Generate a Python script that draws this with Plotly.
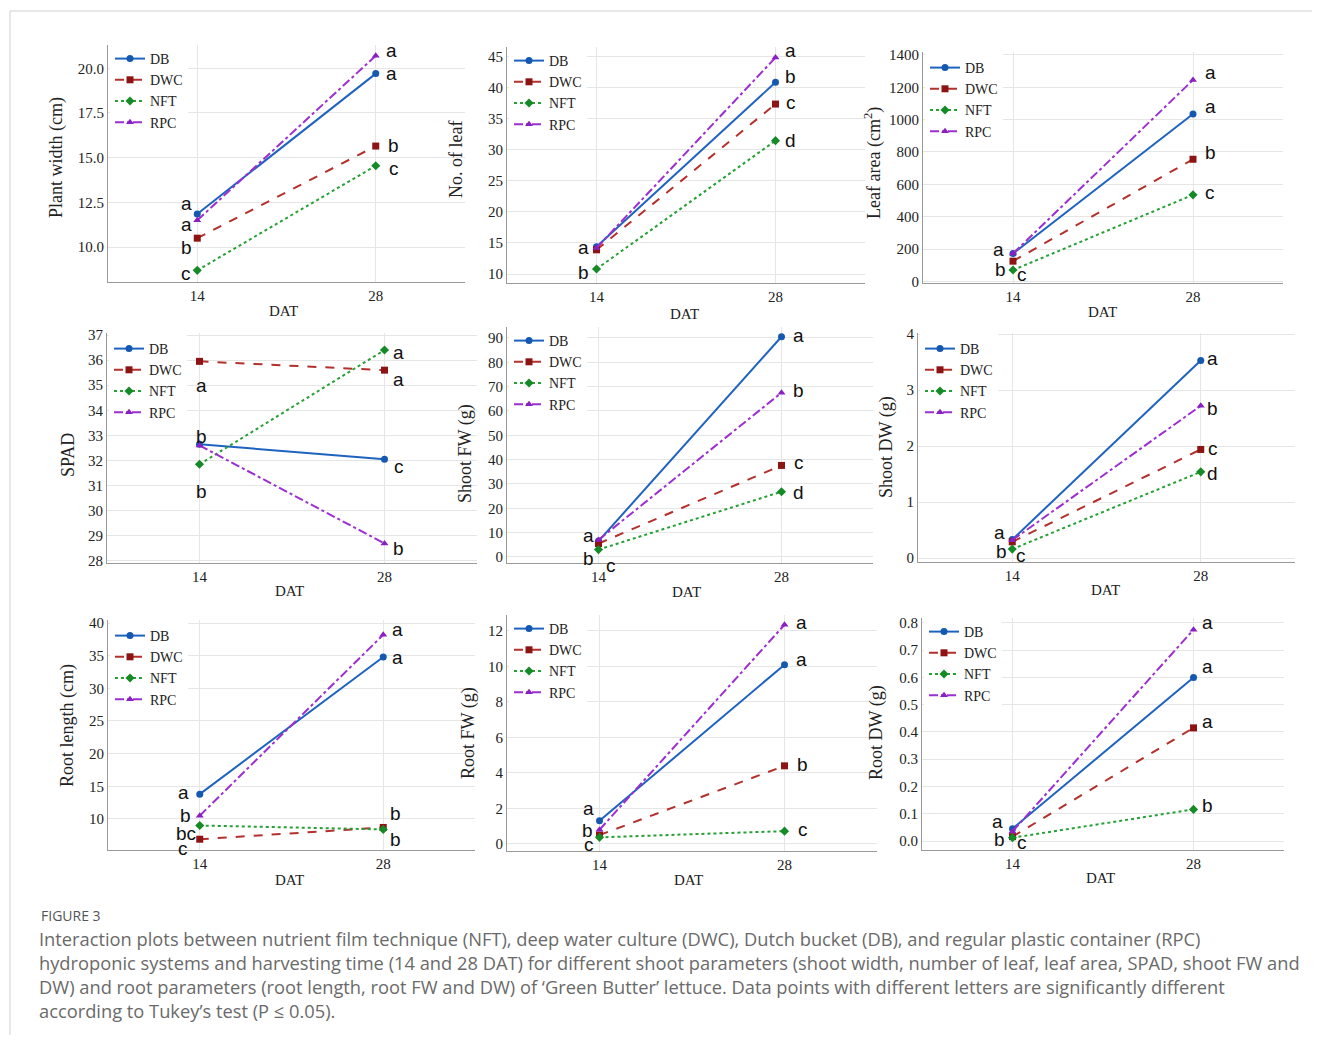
import plotly.graph_objects as go

# page offset (default body margin of the html page) and figure size
OX, OY = 8, 8
W, H = 1304, 1027

DAT = [14, 28]
SYSTEMS = ["DB", "DWC", "NFT", "RPC"]

# ---- data ----
plant_width = {"DB": [11.85, 19.7], "DWC": [10.5, 15.65], "NFT": [8.7, 14.55], "RPC": [11.5, 20.7]}
no_leaf = {"DB": [14.4, 40.9], "DWC": [13.9, 37.4], "NFT": [10.8, 31.5], "RPC": [14.2, 44.9]}
leaf_area = {"DB": [172, 1035], "DWC": [125, 755], "NFT": [70, 535], "RPC": [172, 1245]}
spad = {"DB": [32.65, 32.05], "DWC": [35.95, 35.6], "NFT": [31.85, 36.4], "RPC": [32.6, 28.7]}
shoot_fw = {"DB": [6.5, 90.5], "DWC": [5.5, 37.6], "NFT": [3.0, 26.8], "RPC": [7.0, 67.5]}
shoot_dw = {"DB": [0.33, 3.53], "DWC": [0.29, 1.94], "NFT": [0.16, 1.54], "RPC": [0.32, 2.72]}
root_length = {"DB": [13.8, 34.8], "DWC": [6.9, 8.7], "NFT": [9.0, 8.4], "RPC": [10.5, 38.2]}
root_fw = {"DB": [1.3, 10.1], "DWC": [0.5, 4.4], "NFT": [0.37, 0.72], "RPC": [0.8, 12.35]}
root_dw = {"DB": [0.045, 0.6], "DWC": [0.016, 0.415], "NFT": [0.012, 0.116], "RPC": [0.035, 0.775]}

# significance letters (14 DAT group, 28 DAT group)
letters_pw = (["a", "a", "b", "c"], ["a", "a", "b", "c"])
letters_nl = (["a", "b"], ["a", "b", "c", "d"])
letters_la = (["a", "b", "c"], ["a", "a", "b", "c"])
letters_sp = (["a", "b", "b"], ["a", "a", "c", "b"])
letters_sf = (["a", "b", "c"], ["a", "b", "c", "d"])
letters_sd = (["a", "b", "c"], ["a", "b", "c", "d"])
letters_rl = (["a", "b", "bc", "c"], ["a", "a", "b", "b"])
letters_rf = (["a", "b", "c"], ["a", "a", "b", "c"])
letters_rd = (["a", "b", "c"], ["a", "a", "a", "b"])

# ---- layout of the panels (page pixel positions) ----
panels = [
    dict(data=plant_width, letters=letters_pw, ytitle="Plant width (cm)", yr=[8.05, 21.3], dtick=2.5, fmt=".1f",
         box=(108, 465, 45, 282), ytpos=(56, 158), xtpos=(283, 311),
         lab14=[(12.45, -11), (11.28, -11), (10.0, -11), (8.55, -11)],
         lab28=[(21.0, 16), (19.7, 16), (15.7, 18), (14.4, 18)], leg=(110, 43)),
    dict(data=no_leaf, letters=letters_nl, ytitle="No. of leaf", yr=[8.55, 46.6], dtick=5, fmt="",
         box=(507, 865, 47, 283), ytpos=(456, 160), xtpos=(685, 314),
         lab14=[(14.2, -13), (10.2, -13)],
         lab28=[(46.1, 15), (41.9, 15), (37.7, 15), (31.6, 15)], leg=(509, 45)),
    dict(data=leaf_area, letters=letters_la, ytitle="Leaf area (cm<sup>2</sup>)", yr=[-10, 1418], dtick=200, fmt="",
         box=(923, 1283, 52, 283), ytpos=(873, 163), xtpos=(1102, 312),
         lab14=[(197, -15), (74, -13), (43, 9)],
         lab28=[(1289, 17), (1080, 17), (796, 17), (549, 17)], leg=(925, 52)),
    dict(data=spad, letters=letters_sp, ytitle="SPAD", yr=[27.92, 37.08], dtick=1, fmt="",
         box=(107, 477, 333, 563), ytpos=(68, 455), xtpos=(289, 591),
         lab14=[(34.97, 2), (32.94, 2), (30.75, 2)],
         lab28=[(36.29, 14), (35.21, 14), (31.78, 14), (28.48, 14)], leg=(109, 333)),
    dict(data=shoot_fw, letters=letters_sf, ytitle="Shoot FW (g)", yr=[-2.5, 94.5], dtick=10, fmt="",
         box=(507, 873, 327, 563), ytpos=(465, 453), xtpos=(686, 592),
         lab14=[(8.6, -10), (-0.8, -10), (-2.4, 12, -3)],
         lab28=[(91.2, 17), (68.2, 17), (39.0, 17), (26.3, 17)], leg=(509, 325)),
    dict(data=shoot_dw, letters=letters_sd, ytitle="Shoot DW (g)", yr=[-0.07, 4.02], dtick=1, fmt="",
         box=(918, 1295, 333, 562), ytpos=(886, 447), xtpos=(1105, 590),
         lab14=[(0.46, -13), (0.11, -11), (0.05, 9)],
         lab28=[(3.56, 12), (2.68, 12), (1.96, 12), (1.51, 12)], leg=(920, 333)),
    dict(data=root_length, letters=letters_rl, ytitle="Root length (cm)", yr=[5.25, 40.46], dtick=5, fmt="",
         box=(108, 475, 620, 850), ytpos=(67, 726), xtpos=(289, 880),
         lab14=[(14.1, -16), (10.5, -14), (7.85, -14), (5.55, -17)],
         lab28=[(39.0, 14), (34.7, 14), (10.8, 12), (6.9, 12)], leg=(110, 620)),
    dict(data=root_fw, letters=letters_rf, ytitle="Root FW (g)", yr=[-0.4, 12.9], dtick=2, fmt="",
         box=(507, 877, 615, 851), ytpos=(468, 733), xtpos=(688, 880),
         lab14=[(1.97, -11), (0.73, -12), (-0.06, -11)],
         lab28=[(12.5, 17), (10.37, 17), (4.5, 18), (0.79, 18)], leg=(509, 613)),
    dict(data=root_dw, letters=letters_rd, ytitle="Root DW (g)", yr=[-0.033, 0.818], dtick=0.1, fmt=".1f",
         box=(922, 1284, 618, 850), ytpos=(876, 733), xtpos=(1100, 878),
         lab14=[(0.07, -15), (0.004, -13), (-0.007, 10)],
         lab28=[(0.80, 14), (0.64, 14), (0.437, 14), (0.132, 14)], leg=(924, 616)),
]

styles = {
    "DB": dict(line=dict(color="#1f63c0", width=2, dash="solid"), marker=dict(symbol="circle", size=7, color="#1558b0")),
    "DWC": dict(line=dict(color="#b3302c", width=2, dash="dash"), marker=dict(symbol="square", size=7, color="#8e1414")),
    "NFT": dict(line=dict(color="#25a034", width=2, dash="dot"), marker=dict(symbol="diamond", size=7, color="#168a26")),
    "RPC": dict(line=dict(color="#9d2ed0", width=2, dash="dashdot"), marker=dict(symbol="triangle-up", size=7, color="#8a1fc2")),
}

SERIF = "Liberation Serif, Times New Roman, serif"
SANS = "Liberation Sans, Arial, sans-serif"


def px_x(p):
    return (p - OX) / W


def px_y(p):
    return 1 - (p - OY) / H


fig = go.Figure()
layout = dict(width=W, height=H, autosize=False, margin=dict(l=0, r=0, t=0, b=0, pad=0),
              paper_bgcolor="white", plot_bgcolor="white", showlegend=True)
annotations = []

for i, p in enumerate(panels, start=1):
    sfx = "" if i == 1 else str(i)
    xa, ya = "x" + sfx, "y" + sfx
    lg = "legend" + sfx
    l, r, t, b = p["box"]
    for s in SYSTEMS:
        fig.add_trace(go.Scatter(x=DAT, y=p["data"][s], name=s, mode="lines+markers",
                                 xaxis=xa, yaxis=ya, legend=lg, cliponaxis=False,
                                 **styles[s]))
    common = dict(showgrid=True, gridcolor="#e6e6e6", gridwidth=1,
                  showline=True, linecolor="#9a9a9a", linewidth=1.2,
                  zeroline=False, ticks="", ticklen=0, automargin=False,
                  tickfont=dict(family=SERIF, size=15, color="#222"))
    layout["xaxis" + sfx] = dict(domain=[px_x(l), px_x(r)], anchor=ya, range=[7, 35],
                                tickvals=DAT, ticktext=[str(d) for d in DAT], **common)
    layout["yaxis" + sfx] = dict(domain=[px_y(b), px_y(t)], anchor=xa, range=p["yr"],
                                dtick=p["dtick"], tick0=0, tickformat=p["fmt"], **common)
    layout[lg] = dict(x=px_x(p["leg"][0]), y=px_y(p["leg"][1]), xanchor="left", yanchor="top",
                      bgcolor="white", borderwidth=0, font=dict(family=SERIF, size=14, color="#222"),
                      tracegroupgap=0, itemwidth=30)
    # axis titles
    annotations.append(dict(text=p["ytitle"], x=px_x(p["ytpos"][0]), y=px_y(p["ytpos"][1]),
                            xref="paper", yref="paper", showarrow=False, textangle=-90,
                            font=dict(family=SERIF, size=18, color="#222"), xanchor="center", yanchor="middle"))
    annotations.append(dict(text="DAT", x=px_x(p["xtpos"][0]), y=px_y(p["xtpos"][1]),
                            xref="paper", yref="paper", showarrow=False,
                            font=dict(family=SERIF, size=15, color="#222"), xanchor="center", yanchor="middle"))
    # significance letters
    for dat, labs, pos in ((DAT[0], p["letters"][0], p["lab14"]), (DAT[1], p["letters"][1], p["lab28"])):
        for txt, ps in zip(labs, pos):
            yv, dx = ps[0], ps[1]
            dy = ps[2] if len(ps) > 2 else 0
            annotations.append(dict(text=txt, x=dat, y=yv, xref=xa, yref=ya, xshift=dx, yshift=dy,
                                    showarrow=False, xanchor="center", yanchor="middle",
                                    font=dict(family=SANS, size=19, color="#111")))

# caption
caption_lines = [
    "Interaction plots between nutrient film technique (NFT), deep water culture (DWC), Dutch bucket (DB), and regular plastic container (RPC)",
    "hydroponic systems and harvesting time (14 and 28 DAT) for different shoot parameters (shoot width, number of leaf, leaf area, SPAD, shoot FW and",
    "DW) and root parameters (root length, root FW and DW) of \u2018Green Butter\u2019 lettuce. Data points with different letters are significantly different",
    "according to Tukey\u2019s test (P \u2264 0.05).",
]
annotations.append(dict(text="FIGURE 3", x=px_x(39), y=px_y(915), xref="paper", yref="paper",
                        showarrow=False, xanchor="left", yanchor="middle",
                        font=dict(family="Open Sans, sans-serif", size=14, color="#555")))
for k, line in enumerate(caption_lines):
    annotations.append(dict(text=line, x=px_x(37), y=px_y(938 + 24 * k), xref="paper", yref="paper",
                            showarrow=False, xanchor="left", yanchor="middle",
                            font=dict(family="Open Sans, sans-serif", size=18.3, color="#6a6a6a")))

layout["annotations"] = annotations
layout["shapes"] = [
    dict(type="line", xref="paper", yref="paper", x0=px_x(10), x1=1, y0=px_y(11), y1=px_y(11),
         line=dict(color="#cfcfcf", width=1)),
    dict(type="line", xref="paper", yref="paper", x0=px_x(10), x1=px_x(10), y0=px_y(11), y1=0,
         line=dict(color="#cfcfcf", width=1)),
]
fig.update_layout(**layout)
fig.write_html("out.html")
